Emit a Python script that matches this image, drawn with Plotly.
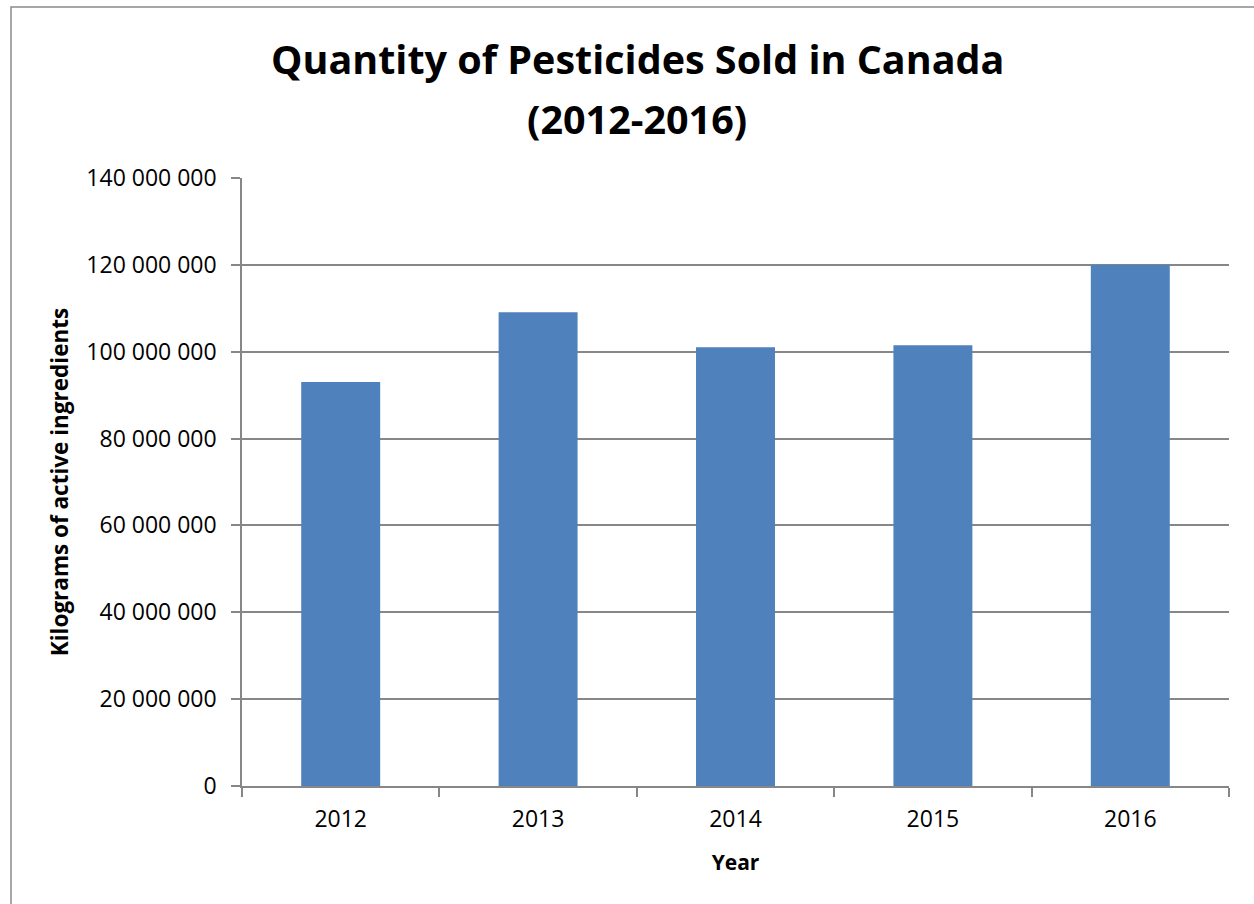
import plotly.graph_objects as go

years = ["2012", "2013", "2014", "2015", "2016"]
quantities = [93_000_000, 109_100_000, 101_000_000, 101_500_000, 120_000_000]
y_ticks = [0, 20_000_000, 40_000_000, 60_000_000, 80_000_000, 100_000_000, 120_000_000, 140_000_000]

title_line1 = "Quantity of Pesticides Sold in Canada"
title_line2 = "(2012-2016)"
x_title = "Year"
y_title = "Kilograms of active ingredients"

GRID = "#878787"
FONT = "'Open Sans', Lato, sans-serif"

fig = go.Figure(
    go.Bar(x=years, y=quantities, marker=dict(color="#4F81BD", line=dict(width=0)))
)

W, H = 1254, 904
L, R, T, B = 242, 25, 178, 118
pw, ph = W - L - R, H - T - B

fig.update_layout(
    width=W, height=H,
    margin=dict(l=L, r=R, t=T, b=B),
    paper_bgcolor="white", plot_bgcolor="white",
    bargap=0.6,
    separators=". ",
    showlegend=False,
    font=dict(family=FONT, color="black"),
    xaxis=dict(
        type="category",
        showline=True, linecolor=GRID, linewidth=1.5,
        ticks="outside", ticklen=9, tickcolor=GRID, tickwidth=1.5,
        tickson="boundaries",
        showgrid=False,
        tickfont=dict(family=FONT, size=23, color="black"),
        ticklabelstandoff=12,
        title=dict(text=x_title, font=dict(family=FONT, size=21, color="black", weight="bold"), standoff=22),
    ),
    yaxis=dict(
        range=[0, 140_000_000],
        tickvals=y_ticks,
        tickformat=",d",
        showline=True, linecolor=GRID, linewidth=1.5,
        ticks="outside", ticklen=9, tickcolor=GRID, tickwidth=1.5,
        showgrid=True, gridcolor=GRID, gridwidth=1.5,
        zeroline=False,
        tickfont=dict(family=FONT, size=23, color="black"),
        ticklabelstandoff=10,
        title=dict(text=y_title, font=dict(family=FONT, size=22.5, color="black", weight="bold"), standoff=11),
    ),
)

# chart title as annotations (two centred lines)
for txt, yb in [(title_line1, 78), (title_line2, 138)]:
    fig.add_annotation(
        text=txt, xref="paper", yref="paper",
        x=(637 - L) / pw, y=(H - B - yb) / ph,
        xanchor="center", yanchor="bottom", showarrow=False,
        font=dict(family=FONT, size=39.5, color="black", weight="bold"),
        yshift=-10,
    )

# outer chart-area border (top and left visible)
fig.add_shape(
    type="rect", xref="paper", yref="paper",
    x0=(11 - L) / pw, x1=1.2, y0=-0.5, y1=(H - B - 7) / ph,
    line=dict(color="#8a8a8a", width=1.5), fillcolor="rgba(0,0,0,0)", layer="below",
)

fig.write_html("out.html")
